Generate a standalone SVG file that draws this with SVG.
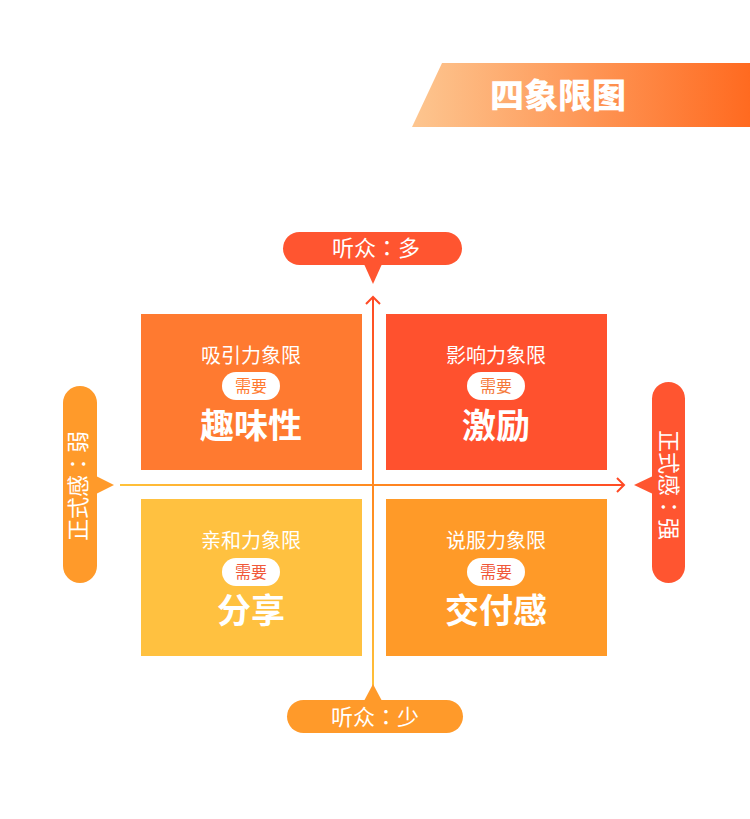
<svg xmlns="http://www.w3.org/2000/svg" width="750" height="819" viewBox="0 0 750 819">
<defs>
<linearGradient id="gBanner" x1="0" y1="0" x2="1" y2="0">
<stop offset="0" stop-color="#FDC690"/>
<stop offset="1" stop-color="#FF6A20"/>
</linearGradient>
<linearGradient id="gV" gradientUnits="userSpaceOnUse" x1="0" y1="690" x2="0" y2="296">
<stop offset="0" stop-color="#FFC23A"/>
<stop offset="0.5" stop-color="#FF8A20"/>
<stop offset="1" stop-color="#FF4A25"/>
</linearGradient>
<linearGradient id="gH" gradientUnits="userSpaceOnUse" x1="120" y1="0" x2="626" y2="0">
<stop offset="0" stop-color="#FFC23A"/>
<stop offset="0.5" stop-color="#FF8A20"/>
<stop offset="1" stop-color="#FF4A25"/>
</linearGradient>
<style>
text{font-family:"Noto Sans CJK SC","Noto Sans",sans-serif;fill:#fff;text-anchor:middle}
.c{font-family:"Noto Sans CJK JP","Noto Sans CJK SC",sans-serif}
.lbl{font-size:22px}
.ttl{font-size:20px}
.need{font-size:16px}
.big{font-size:34px;font-weight:700}
</style>
</defs>
<rect width="750" height="819" fill="#fff"/>
<g id="banner">
<polygon points="442,63 750,63 750,127 412,127" fill="url(#gBanner)"/>
<text x="558" y="108" style="font-size:34px;font-weight:900">四象限图</text>
</g>
<g id="connectors">
<line x1="373" y1="690" x2="373" y2="297" stroke="url(#gV)" stroke-width="2"/>
<polyline points="366,304 373,297 380,304" fill="none" stroke="#FF4A25" stroke-width="2"/>
<line x1="120" y1="485" x2="624" y2="485" stroke="url(#gH)" stroke-width="2"/>
<polyline points="617,478 624,485 617,492" fill="none" stroke="#FF4A25" stroke-width="2"/>
</g>
<g id="q-tl">
<rect x="141" y="314" width="221" height="156" fill="#FF7A30"/>
<text class="ttl" x="251" y="363">吸引力象限</text>
<rect x="222" y="372" width="58" height="28" rx="14" fill="#fff"/>
<text class="need" x="251" y="392" style="fill:#FF7A30">需要</text>
<text class="big" x="251" y="438">趣味性</text>
</g>
<g id="q-tr">
<rect x="386" y="314" width="221" height="156" fill="#FF512E"/>
<text class="ttl" x="496" y="363">影响力象限</text>
<rect x="467" y="372" width="58" height="28" rx="14" fill="#fff"/>
<text class="need" x="496" y="392" style="fill:#F5793A">需要</text>
<text class="big" x="496" y="438">激励</text>
</g>
<g id="q-bl">
<rect x="141" y="499" width="221" height="157" fill="#FFC140"/>
<text class="ttl" x="251" y="548">亲和力象限</text>
<rect x="222" y="558" width="58" height="28" rx="14" fill="#fff"/>
<text class="need" x="251" y="578" style="fill:#F0583A">需要</text>
<text class="big" x="251" y="623">分享</text>
</g>
<g id="q-br">
<rect x="386" y="499" width="221" height="157" fill="#FF9A28"/>
<text class="ttl" x="496" y="548">说服力象限</text>
<rect x="467" y="558" width="58" height="28" rx="14" fill="#fff"/>
<text class="need" x="496" y="578" style="fill:#F0583A">需要</text>
<text class="big" x="496" y="623">交付感</text>
</g>
<g id="lbl-top">
<rect x="283" y="232" width="179" height="33" rx="16.5" fill="#FF5530"/>
<polygon points="364,264 382,264 373,284" fill="#FF5530"/>
<text class="lbl" x="376" y="256">听众<tspan class="c">：</tspan>多</text>
</g>
<g id="lbl-bottom">
<rect x="287" y="700" width="176" height="33" rx="16.5" fill="#FF9A2A"/>
<polygon points="364,701 382,701 373,684" fill="#FF9A2A"/>
<text class="lbl" x="375" y="725">听众<tspan class="c">：</tspan>少</text>
</g>
<g id="lbl-left">
<rect x="63" y="386" width="34" height="197" rx="17" fill="#FF9A2A"/>
<polygon points="96,476 96,494 114,485" fill="#FF9A2A"/>
<text class="lbl" transform="translate(86,486) rotate(-90)" x="0" y="0">正式感<tspan class="c">：</tspan>弱</text>
</g>
<g id="lbl-right">
<rect x="652" y="382" width="33" height="201" rx="16.5" fill="#FF5530"/>
<polygon points="653,476 653,494 634,485" fill="#FF5530"/>
<text class="lbl" transform="translate(661,485) rotate(90)" x="0" y="0">正式感<tspan class="c">：</tspan>强</text>
</g>
</svg>
